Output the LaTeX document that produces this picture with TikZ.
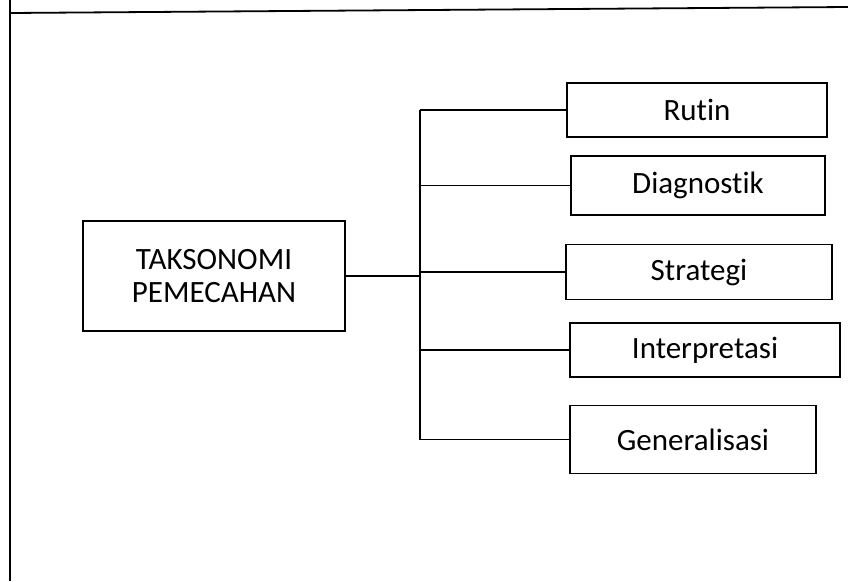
\documentclass[tikz,border=0pt]{standalone}
\usepackage{fontspec}
\setmainfont{Carlito}[Ligatures=NoCommon]
\begin{document}
\begin{tikzpicture}[x=1pt,y=-1pt,
  box/.style={draw=black,line width=1.8pt,rectangle,inner sep=0pt,align=center,
    font=\fontsize{31}{33}\selectfont},
  link/.style={line width=1.8pt},
  mainlink/.style={line width=2.6pt}]
\useasboundingbox (0,0) rectangle (848,581);
% page frame
\draw[line width=1.8pt] (10,0) -- (10,581);
\draw[line width=1.8pt] (10,13) -- (848,7);
% nodes
\node[box,minimum width=262pt,minimum height=110pt] (main) at (214,276) {TAKSONOMI\\PEMECAHAN};
\node[box,minimum width=260pt,minimum height=54pt] (rutin) at (697,110) {Rutin};
\node[box,minimum width=254pt,minimum height=59pt] (diag) at (698,185.5) {Diagnostik};
\node[box,minimum width=266pt,minimum height=55pt] (strat) at (699,272) {Strategi};
\node[box,minimum width=270pt,minimum height=54pt] (interp) at (705,350) {Interpretasi};
\node[box,minimum width=246pt,minimum height=68pt] (gen) at (693,439.5) {Generalisasi};
\coordinate (bus) at (420,0);
% connectors
\draw[link] (rutin.west -| bus) -- (gen.west -| bus);
\draw[mainlink] (main.east) -- (main.east -| bus);
\foreach \n in {rutin,diag,strat,interp,gen}
  \draw[link] (\n.west -| bus) -- (\n.west);
\end{tikzpicture}
\end{document}
